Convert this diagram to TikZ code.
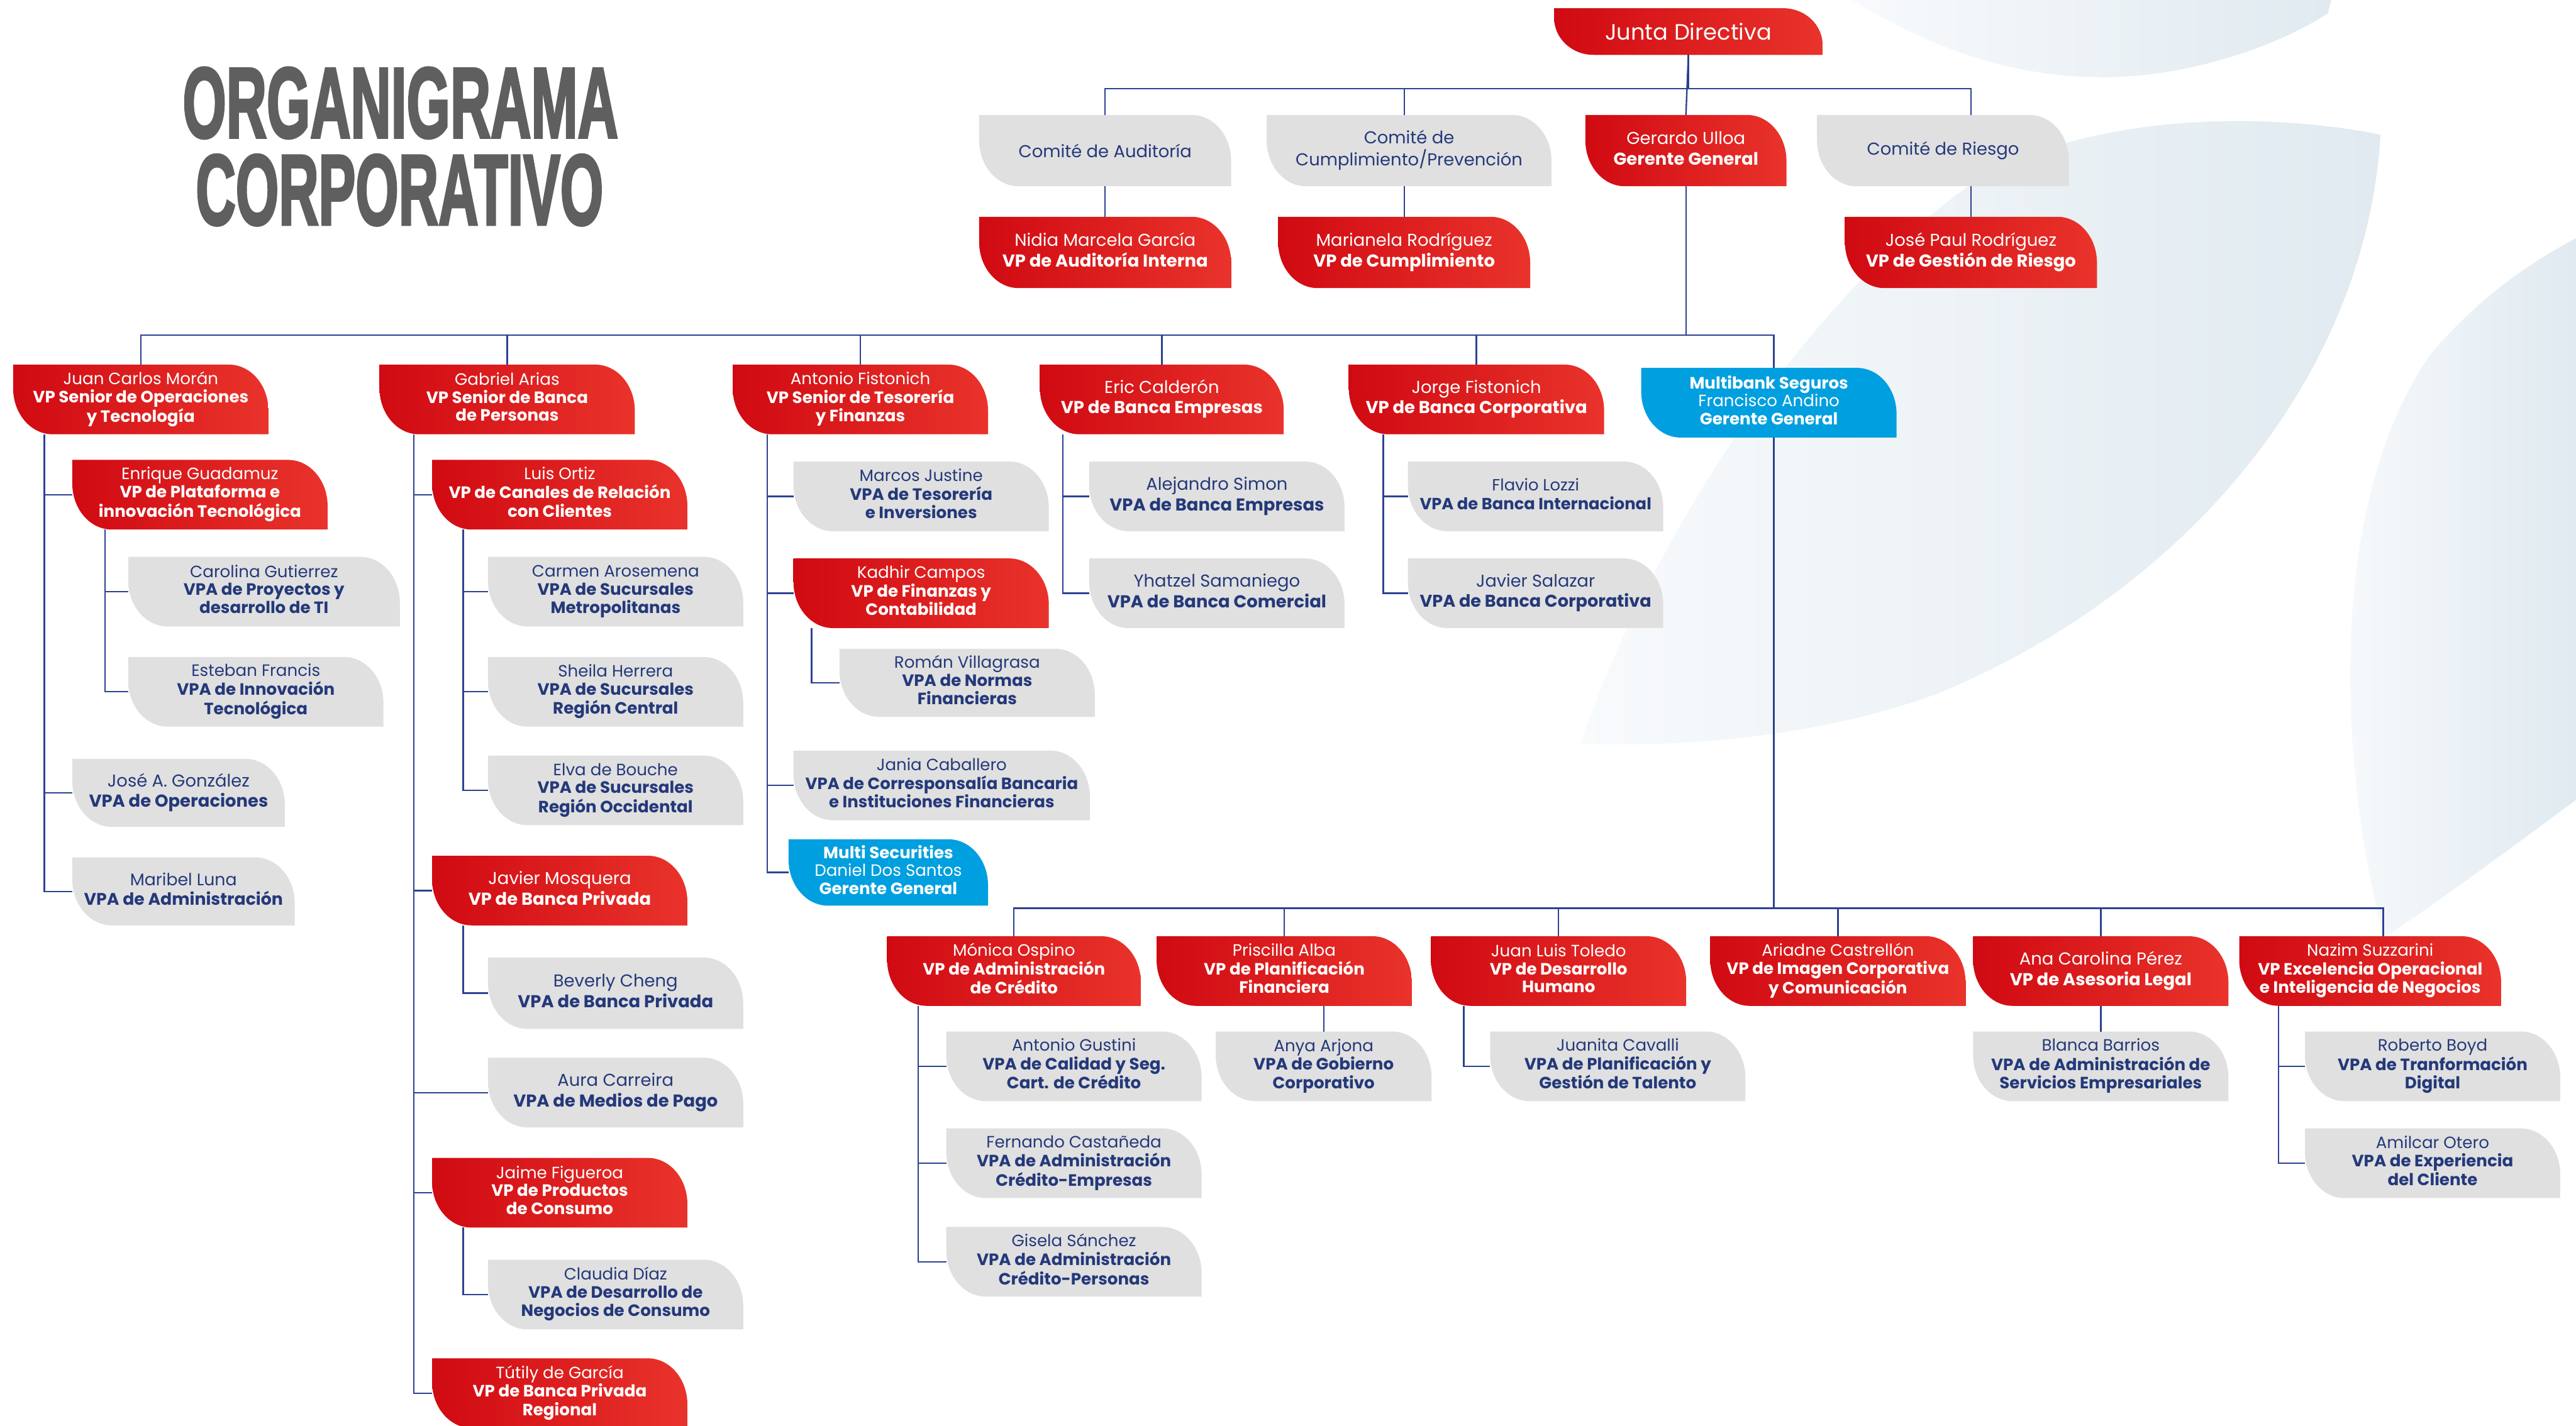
\documentclass[tikz,border=0pt]{standalone}
\usepackage{fontspec}
\usepackage{graphicx}
\setmainfont{Poppins}
\newfontfamily\titlefont{Liberation Sans}[FakeBold=3]
\usetikzlibrary{backgrounds}

\definecolor{redA}{HTML}{D00A12}
\definecolor{redB}{HTML}{E9332B}
\definecolor{cardgrey}{HTML}{E0E0E0}
\definecolor{cardblue}{HTML}{009FDF}
\definecolor{navy}{HTML}{24397A}
\definecolor{linkc}{HTML}{2D4291}
\definecolor{titlegrey}{HTML}{5F5F5F}
\definecolor{swA}{HTML}{F8FAFC}
\definecolor{swB}{HTML}{E0EAF0}

\pgfdeclarelayer{swoosh}
\pgfdeclarelayer{cards}
\pgfsetlayers{swoosh,cards,main}

% card text helpers
\newlength\cardw
\newlength\cardry
\newlength\cardky
\newsavebox\fitbox
\newcommand\fitw[1]{\sbox\fitbox{#1}\ifdim\wd\fitbox>\cardw\resizebox{\cardw}{!}{\usebox\fitbox}\else\usebox\fitbox\fi}
\newcommand\onel[1]{\fontsize{10.5}{12.4}\selectfont #1}
\newcommand\cmte[2]{\fontsize{10.5}{11.8}\selectfont\begin{tabular}{@{}c@{}}#1\\#2\end{tabular}}
\newcommand\twol[2]{\fontsize{10.5}{12.4}\selectfont\begin{tabular}{@{}c@{}}#1\\\textbf{#2}\end{tabular}}
\newcommand\threel[3]{\fontsize{10}{10.9}\selectfont\begin{tabular}{@{}c@{}}#1\\\textbf{#2}\\\textbf{#3}\end{tabular}}
\newcommand\firm[3]{\fontsize{10}{10.9}\selectfont\begin{tabular}{@{}c@{}}\textbf{#1}\\#2\\\textbf{#3}\end{tabular}}

% leaf-shaped card: kind, name, x1, y1, x2, y2, content
\newcommand\card[7]{%
  \pgfmathsetlength\cardw{#5-#3-14}%
  \pgfmathsetlength\cardry{min(28,(#6-#4)*0.8)}%
  \pgfmathsetlength\cardky{\cardry*0.4477}%
  \node[#1text, minimum width={(#5-#3)*1pt}, minimum height={(#6-#4)*1pt}] (#2) at (#3,#4) {\fitw{#7}};
  \begin{pgfonlayer}{cards}
    \path[#1fill] (#2.north west) -- ([xshift=-24pt]#2.north east)
      .. controls ([xshift=-10.75pt]#2.north east) and ([yshift=-\cardky]#2.north east) .. ([yshift=-\cardry]#2.north east)
      -- (#2.south east) -- ([xshift=24pt]#2.south west)
      .. controls ([xshift=10.75pt]#2.south west) and ([yshift=\cardky]#2.south west) .. ([yshift=\cardry]#2.south west)
      -- cycle;
  \end{pgfonlayer}}

\tikzset{
  cardbase/.style={anchor=north west, inner sep=0pt, align=center},
  redtext/.style={cardbase, text=white},
  greytext/.style={cardbase, text=navy},
  bluetext/.style={cardbase, text=white},
  redfill/.style={left color=redA, right color=redB},
  greyfill/.style={fill=cardgrey},
  bluefill/.style={fill=cardblue},
  link/.style={draw=linkc, line width=0.9pt},
  swooshfill/.style={left color=swA, right color=swB},
}

\begin{document}
\begin{tikzpicture}[x=1pt, y=-1pt]
\useasboundingbox (0,0) rectangle (1568,868);

% background swooshes
\begin{pgfonlayer}{swoosh}
  \fill[white] (0,0) rectangle (1568,868);
  \path[swooshfill] (1127,0) .. controls (1180,32) and (1228,47) .. (1281,47)
     .. controls (1335,47) and (1390,26) .. (1417,8) -- (1419,0) -- cycle;
  \path[swooshfill] (962,453) .. controls (1000,340) and (1090,190) .. (1200,112)
     .. controls (1270,68) and (1380,68) .. (1449,82)
     .. controls (1440,230) and (1330,360) .. (1180,422)
     .. controls (1110,448) and (1030,455) .. (962,453) -- cycle;
  \path[swooshfill] (1451,571) .. controls (1420,450) and (1420,300) .. (1480,215)
     .. controls (1510,180) and (1540,160) .. (1568,145) -- (1568,487)
     .. controls (1530,515) and (1490,545) .. (1451,571) -- cycle;
\end{pgfonlayer}

% title, two stacked lines in one block
\node[anchor=north west, inner sep=0pt, text=titlegrey, align=left] (title) at (111,41)
  {\resizebox*{265pt}{43pt}{\titlefont\bfseries ORGANIGRAMA}\\[9pt]%
   \hspace*{8pt}\resizebox*{248pt}{43pt}{\titlefont\bfseries CORPORATIVO}};

% board and committees
\card{red}{jd}{946}{5}{1109}{33}{\fontsize{13.5}{15}\selectfont Junta Directiva}
\card{grey}{ca}{596}{70}{749}{113}{\onel{Comité de Auditoría}}
\card{grey}{cc}{771}{70}{944}{113}{\cmte{Comité de}{Cumplimiento/Prevención}}
\card{red}{gu}{965}{70}{1087}{113}{\twol{Gerardo Ulloa}{Gerente General}}
\card{grey}{cr}{1106}{70}{1259}{113}{\onel{Comité de Riesgo}}
\card{red}{ai}{596}{132}{749}{175}{\twol{Nidia Marcela García}{VP de Auditoría Interna}}
\card{red}{mr}{778}{132}{931}{175}{\twol{Marianela Rodríguez}{VP de Cumplimiento}}
\card{red}{jp}{1123}{132}{1276}{175}{\twol{José Paul Rodríguez}{VP de Gestión de Riesgo}}

% senior vice presidents
\card{red}{jcm}{8}{222}{163}{264}{\threel{Juan Carlos Morán}{VP Senior de Operaciones}{y Tecnología}}
\card{red}{ga}{231}{222}{386}{264}{\threel{Gabriel Arias}{VP Senior de Banca}{de Personas}}
\card{red}{af}{446}{222}{601}{264}{\threel{Antonio Fistonich}{VP Senior de Tesorería}{y Finanzas}}
\card{red}{ec}{633}{222}{781}{264}{\twol{Eric Calderón}{VP de Banca Empresas}}
\card{red}{jf}{821}{222}{976}{264}{\twol{Jorge Fistonich}{VP de Banca Corporativa}}
\card{blue}{mb}{999}{224}{1154}{266}{\firm{Multibank Seguros}{Francisco Andino}{Gerente General}}

% operations and technology
\card{red}{eg}{44}{280}{199}{322}{\threel{Enrique Guadamuz}{VP de Plataforma e}{innovación Tecnológica}}
\card{grey}{cg}{78}{339}{243}{381}{\threel{Carolina Gutierrez}{VPA de Proyectos y}{desarrollo de TI}}
\card{grey}{ef}{78}{400}{233}{442}{\threel{Esteban Francis}{VPA de Innovación}{Tecnológica}}
\card{grey}{jg}{44}{462}{173}{503}{\twol{José A. González}{VPA de Operaciones}}
\card{grey}{ml}{44}{522}{179}{563}{\twol{Maribel Luna}{VPA de Administración}}

% personal banking
\card{red}{lo}{263}{280}{418}{322}{\threel{Luis Ortiz}{VP de Canales de Relación}{con Clientes}}
\card{grey}{cam}{297}{339}{452}{381}{\threel{Carmen Arosemena}{VPA de Sucursales}{Metropolitanas}}
\card{grey}{sh}{297}{400}{452}{442}{\threel{Sheila Herrera}{VPA de Sucursales}{Región Central}}
\card{grey}{eb}{297}{460}{452}{502}{\threel{Elva de Bouche}{VPA de Sucursales}{Región Occidental}}
\card{red}{jm}{263}{521}{418}{563}{\twol{Javier Mosquera}{VP de Banca Privada}}
\card{grey}{bc}{297}{583}{452}{626}{\twol{Beverly Cheng}{VPA de Banca Privada}}
\card{grey}{acr}{297}{644}{452}{686}{\twol{Aura Carreira}{VPA de Medios de Pago}}
\card{red}{jfi}{263}{705}{418}{747}{\threel{Jaime Figueroa}{VP de Productos}{de Consumo}}
\card{grey}{cd}{297}{767}{452}{809}{\threel{Claudia Díaz}{VPA de Desarrollo de}{Negocios de Consumo}}
\card{red}{tg}{263}{827}{418}{869}{\threel{Tútily de García}{VP de Banca Privada}{Regional}}

% treasury and finance
\card{grey}{mj}{483}{281}{638}{323}{\threel{Marcos Justine}{VPA de Tesorería}{e Inversiones}}
\card{red}{kc}{483}{340}{638}{382}{\threel{Kadhir Campos}{VP de Finanzas y}{Contabilidad}}
\card{grey}{rv}{511}{395}{666}{436}{\threel{Román Villagrasa}{VPA de Normas}{Financieras}}
\card{grey}{jc}{483}{457}{663}{499}{\threel{Jania Caballero}{VPA de Corresponsalía Bancaria}{e Instituciones Financieras}}
\card{blue}{ms}{480}{511}{601}{551}{\firm{Multi Securities}{Daniel Dos Santos}{Gerente General}}

% business and corporate banking
\card{grey}{asi}{663}{281}{818}{323}{\twol{Alejandro Simon}{VPA de Banca Empresas}}
\card{grey}{ys}{663}{340}{818}{382}{\twol{Yhatzel Samaniego}{VPA de Banca Comercial}}
\card{grey}{fl}{857}{281}{1012}{323}{\twol{Flavio Lozzi}{VPA de Banca Internacional}}
\card{grey}{js}{857}{340}{1012}{382}{\twol{Javier Salazar}{VPA de Banca Corporativa}}

% vice presidents under the general manager
\card{red}{mo}{540}{570}{694}{612}{\threel{Mónica Ospino}{VP de Administración}{de Crédito}}
\card{red}{pa}{704}{570}{859}{612}{\threel{Priscilla Alba}{VP de Planificación}{Financiera}}
\card{red}{jlt}{871}{570}{1026}{612}{\threel{Juan Luis Toledo}{VP de Desarrollo}{Humano}}
\card{red}{acs}{1041}{570}{1196}{612}{\threel{Ariadne Castrellón}{VP de Imagen Corporativa}{y Comunicación}}
\card{red}{acp}{1201}{570}{1356}{612}{\twol{Ana Carolina Pérez}{VP de Asesoria Legal}}
\card{red}{nz}{1363}{570}{1522}{612}{\threel{Nazim Suzzarini}{VP Excelencia Operacional}{e Inteligencia de Negocios}}

\card{grey}{ag}{576}{628}{731}{670}{\threel{Antonio Gustini}{VPA de Calidad y Seg.}{Cart. de Crédito}}
\card{grey}{fc}{576}{687}{731}{729}{\threel{Fernando Castañeda}{VPA de Administración}{Crédito-Empresas}}
\card{grey}{gs}{576}{747}{731}{789}{\threel{Gisela Sánchez}{VPA de Administración}{Crédito-Personas}}
\card{grey}{aa}{740}{628}{871}{670}{\threel{Anya Arjona}{VPA de Gobierno}{Corporativo}}
\card{grey}{jcv}{907}{628}{1062}{670}{\threel{Juanita Cavalli}{VPA de Planificación y}{Gestión de Talento}}
\card{grey}{bb}{1201}{628}{1356}{670}{\threel{Blanca Barrios}{VPA de Administración de}{Servicios Empresariales}}
\card{grey}{rb}{1403}{628}{1558}{670}{\threel{Roberto Boyd}{VPA de Tranformación}{Digital}}
\card{grey}{ao}{1403}{687}{1558}{729}{\threel{Amilcar Otero}{VPA de Experiencia}{del Cliente}}

% ---- connectors ----
\coordinate (cctop) at (mr.north |- cc.north);
\coordinate (ccbot) at (mr.north |- cc.south);
\coordinate (crtop) at (jp.north |- cr.north);
\coordinate (crbot) at (jp.north |- cr.south);

\draw[link] (jd.south) -- (gu.north);
\draw[link] (jd.south) |- ([yshift=16pt]ca.north) -- (ca.north);
\draw[link] (jd.south) |- ([yshift=16pt]cctop) -- (cctop);
\draw[link] (jd.south) |- ([yshift=16pt]crtop) -- (crtop);
\draw[link] (ca.south) -- (ai.north);
\draw[link] (ccbot) -- (mr.north);
\draw[link] (crbot) -- (jp.north);

\foreach \n in {jcm,ga,af,ec,jf}
  \draw[link] (gu.south) |- ([yshift=18pt]\n.north) -- (\n.north);
\draw[link] (gu.south) |- ([xshift=3pt,yshift=20pt]mb.north) -- ([xshift=3pt]mb.north);

\foreach \n in {eg,jg,ml}
  \draw[link] ([xshift=19pt]jcm.south west) |- (\n.west);
\foreach \n in {cg,ef}
  \draw[link] ([xshift=20pt]eg.south west) |- (\n.west);

\foreach \n in {lo,jm,acr,jfi,tg}
  \draw[link] ([xshift=21pt]ga.south west) |- (\n.west);
\foreach \n in {cam,sh,eb}
  \draw[link] ([xshift=19pt]lo.south west) |- (\n.west);
\draw[link] ([xshift=19pt]jm.south west) |- (bc.west);
\draw[link] ([xshift=19pt]jfi.south west) |- (cd.west);

\foreach \n in {mj,kc,jc,ms}
  \draw[link] ([xshift=21pt]af.south west) |- (\n.west);
\draw[link] ([xshift=11pt]kc.south west) |- (rv.west);

\foreach \n in {asi,ys}
  \draw[link] ([xshift=14pt]ec.south west) |- (\n.west);
\foreach \n in {fl,js}
  \draw[link] ([xshift=21pt]jf.south west) |- (\n.west);

\foreach \n in {mo,pa,jlt,acs,acp}
  \draw[link] ([xshift=3pt]mb.south) |- ([yshift=17pt]\n.north) -- (\n.north);
\draw[link] ([xshift=3pt]mb.south) |- ([xshift=8pt,yshift=17pt]nz.north) -- ([xshift=8pt]nz.north);

\foreach \n in {ag,fc,gs}
  \draw[link] ([xshift=19pt]mo.south west) |- (\n.west);
\draw[link] (aa.north |- pa.south) -- (aa.north);
\draw[link] ([xshift=20pt]jlt.south west) |- (jcv.west);
\draw[link] (acp.south) -- (bb.north);
\foreach \n in {rb,ao}
  \draw[link] ([xshift=24pt]nz.south west) |- (\n.west);
\end{tikzpicture}
\end{document}
